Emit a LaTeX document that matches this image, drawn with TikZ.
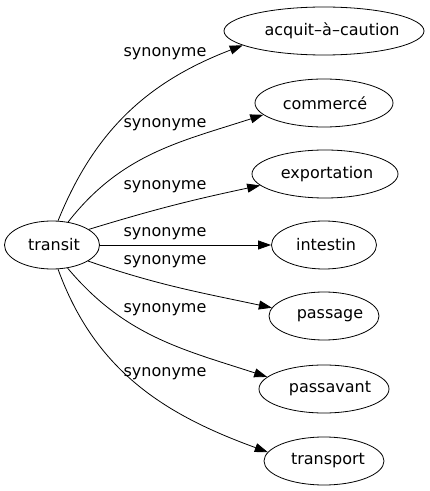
\documentclass[tikz,border=0pt]{standalone}
\usepackage{fontspec}
\setmainfont{DejaVu Sans}
\usetikzlibrary{shapes.geometric,arrows.meta}

\begin{document}
\begin{tikzpicture}[x=1pt,y=1pt]
\tikzstyle{every node}+=[font=\fontsize{16}{19}\selectfont]
\tikzstyle{word}=[draw,ellipse,line width=0.8pt,inner sep=0pt,minimum height=48pt]
\tikzstyle{syn}=[anchor=base,inner sep=0pt]
\tikzstyle{rel}=[draw,line width=0.8pt,-{Triangle[length=13pt,width=9pt]}]
\useasboundingbox (0,0) rectangle (430,491);
\node [word,minimum width=95pt,label={[xshift=2pt]center:transit}] (transit) at (52,246) {};
\node [word,minimum width=200pt,label={[xshift=8pt]center:acquit–à–caution}] (acquit) at (324,460) {};
\node [word,minimum width=138pt,label={[xshift=1pt]center:commercé}] (commerce) at (324,388) {};
\node [word,minimum width=146pt,label={[xshift=2pt]center:exportation}] (exportation) at (325,317) {};
\node [word,minimum width=105pt,label={[xshift=2pt]center:intestin}] (intestin) at (324,246) {};
\node [word,minimum width=110pt,label={[xshift=6pt]center:passage}] (passage) at (324,175) {};
\node [word,minimum width=130pt,label={[xshift=6pt]center:passavant}] (passavant) at (324,102) {};
\node [word,minimum width=120pt,label={[xshift=4pt]center:transport}] (transport) at (324,30) {};
\node [syn] (s1) at (165,434) {synonyme};
\node [syn] (s2) at (165,363) {synonyme};
\node [syn] (s3) at (165,301) {synonyme};
\node [syn] (s4) at (165,254) {synonyme};
\node [syn] (s5) at (165,226) {synonyme};
\node [syn] (s6) at (165,178) {synonyme};
\node [syn] (s7) at (165,114) {synonyme};
\draw [rel] (transit.76) to [out=68,in=201] (acquit.190);
\draw [rel] (transit.55) to [out=52,in=198] (commerce.191);
\draw [rel] (transit.23) to [out=17,in=192] (exportation.190);
\draw [rel] (transit) -- (intestin);
\draw [rel] (transit.336) to [out=-19,in=168] (passage.171);
\draw [rel] (transit.304) to [out=-50,in=162] (passavant.168);
\draw [rel] (transit.284) to [out=-70,in=160] (transport.171);
\end{tikzpicture}
\end{document}
